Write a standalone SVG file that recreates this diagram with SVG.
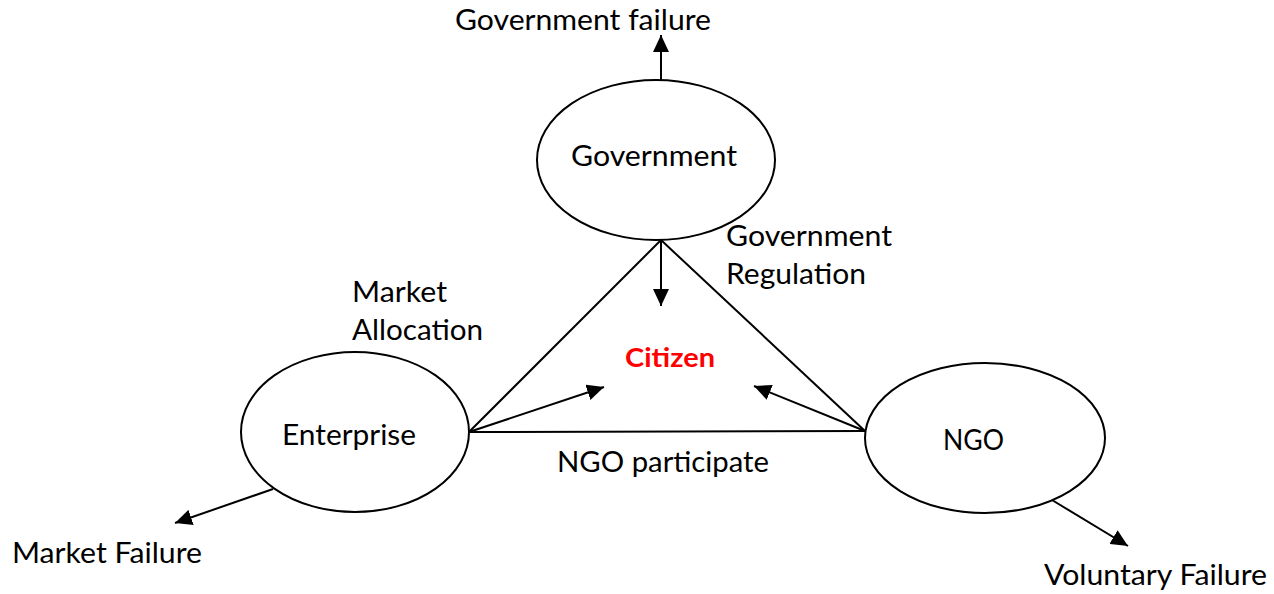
<svg xmlns="http://www.w3.org/2000/svg" width="1274" height="594" viewBox="0 0 1274 594">
<style>
.node{fill:#fff;stroke:#000;stroke-width:2}
.t{font-family:Lato,"Liberation Sans",sans-serif;font-size:28px;fill:#000}
.c{font-family:Lato,"Liberation Sans",sans-serif;font-size:27px;font-weight:bold;fill:#ff0000}
.ln{stroke:#000;stroke-width:2;fill:none}
.ar{stroke:#000;stroke-width:2;fill:none;marker-end:url(#ah)}
</style>
<defs>
<marker id="ah" markerUnits="userSpaceOnUse" markerWidth="18" markerHeight="16" refX="17" refY="8" orient="auto">
<path d="M0,0 L17,8 L0,16 Z" fill="#000"/>
</marker>
</defs>
<rect width="1274" height="594" fill="#fff"/>
<g id="connectors">
<line class="ln" x1="661" y1="240" x2="469" y2="432"/>
<line class="ln" x1="661" y1="240" x2="865" y2="431"/>
<line class="ln" x1="469" y1="432" x2="865" y2="431"/>
<line class="ar" x1="661" y1="80" x2="661" y2="35"/>
<line class="ar" x1="661" y1="240" x2="661" y2="306"/>
<line class="ar" x1="469" y1="432" x2="604" y2="387"/>
<line class="ar" x1="865" y1="431" x2="754" y2="386"/>
<line class="ar" x1="273" y1="489" x2="175" y2="523"/>
<line class="ar" x1="1052" y1="500" x2="1128" y2="546"/>
</g>
<g id="government">
<ellipse class="node" cx="656" cy="160" rx="119" ry="80"/>
<text class="t" x="571" y="166" textLength="166" lengthAdjust="spacingAndGlyphs">Government</text>
</g>
<g id="enterprise">
<ellipse class="node" cx="355" cy="432" rx="114" ry="80"/>
<text class="t" x="282" y="445" textLength="134" lengthAdjust="spacingAndGlyphs">Enterprise</text>
</g>
<g id="ngo">
<ellipse class="node" cx="985" cy="438" rx="120" ry="75"/>
<text class="t" x="943" y="450" textLength="61" lengthAdjust="spacingAndGlyphs">NGO</text>
</g>
<g id="citizen">
<text class="c" x="625" y="367" textLength="90" lengthAdjust="spacingAndGlyphs">Citizen</text>
</g>
<g id="labels">
<text class="t" x="455" y="30" textLength="256" lengthAdjust="spacingAndGlyphs">Government failure</text>
<text class="t" x="726" y="246" textLength="166" lengthAdjust="spacingAndGlyphs">Government</text>
<text class="t" x="726" y="284" textLength="140" lengthAdjust="spacingAndGlyphs">Regulation</text>
<text class="t" x="352" y="302" textLength="95" lengthAdjust="spacingAndGlyphs">Market</text>
<text class="t" x="352" y="340" textLength="131" lengthAdjust="spacingAndGlyphs">Allocation</text>
<text class="t" x="557" y="472" textLength="212" lengthAdjust="spacingAndGlyphs">NGO participate</text>
<text class="t" x="12" y="563" textLength="190" lengthAdjust="spacingAndGlyphs">Market Failure</text>
<text class="t" x="1044" y="585" textLength="223" lengthAdjust="spacingAndGlyphs">Voluntary Failure</text>
</g>
</svg>
